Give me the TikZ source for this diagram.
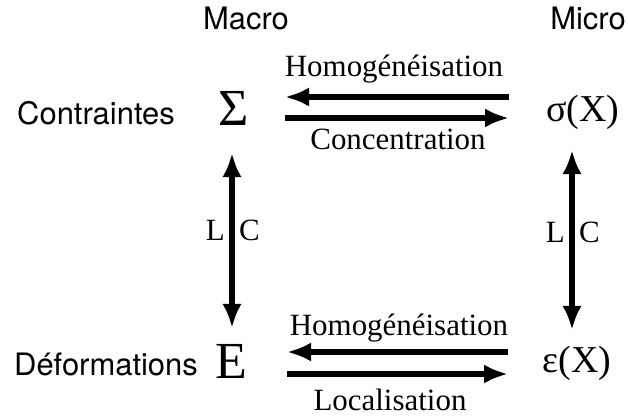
\documentclass[tikz,border=0pt]{standalone}
\usepackage{fontspec}
\setmainfont{Liberation Serif}
\setsansfont{TeX Gyre Heros}
\usetikzlibrary{arrows.meta,positioning,calc}

\begin{document}
\begin{tikzpicture}[x=0.025cm,y=-0.025cm,
  side/.style={font=\sffamily\fontsize{22}{26}\selectfont,anchor=base,inner sep=0pt},
  lbl/.style={font=\fontsize{22}{26}\selectfont,anchor=base,inner sep=0pt},
  qty/.style={font=\fontsize{37}{40}\selectfont,anchor=base,inner sep=0pt},
  fld/.style={font=\fontsize{27}{30}\selectfont,anchor=base,inner sep=0pt},
  link/.style={line width=4.2pt,-{Latex[length=0.6cm,width=0.48cm]}},
  both/.style={line width=4.2pt,{Latex[length=0.6cm,width=0.48cm]}-{Latex[length=0.6cm,width=0.48cm]}},
  lc/.style={font=\fontsize{22}{26}\selectfont,inner sep=0pt}]
\useasboundingbox (0,0) rectangle (628,418);

% Scales
\node[side] (macro) at (246,30) {Macro};
\node[side] (micro) at (588,30) {Micro};

% Row names
\node[side] (contr) at (96,125) {Contraintes};
\node[side] (defor) at (106,375) {Déformations};

% Quantities
\node[qty] (Sig) at (234,126) {Σ};
\node[qty] (E) at (231,378) {E};
\node[fld] (sig) at (583,122) {σ(X)};
\node[fld] (eps) at (577,372) {ε(X)};

% Top arrows
\draw[link] ($(sig.base)+(-74,-25)$) -- ($(Sig.base)+(51,-29)$);
\draw[link] ($(Sig.base)+(51,-8)$) -- ($(sig.base)+(-74,-4)$);
\node[lbl] (homtop) at (394,77) {Homogénéisation};
\node[lbl] (conc) at (398,150) {Concentration};

% Bottom arrows
\draw[link] ($(eps.base)+(-69,-20)$) -- ($(E.base)+(56,-26)$);
\draw[link] ($(E.base)+(56,-4)$) -- ($(eps.base)+(-69,2)$);
\node[lbl] (hombot) at (399,335) {Homogénéisation};
\node[lbl] (loca) at (390,410) {Localisation};

% Vertical arrows
\draw[both] ($(Sig.base)+(-2,27)$) -- ($(E.base)+(1,-50)$)
  node[lc,pos=.44,left=3pt] {L} node[lc,pos=.44,right=3pt] {C};
\draw[both] ($(sig.base)+(-11,28)$) -- ($(eps.base)+(-5,-42)$)
  node[lc,pos=.46,left=3pt] {L} node[lc,pos=.46,right=3pt] {C};

\end{tikzpicture}
\end{document}
